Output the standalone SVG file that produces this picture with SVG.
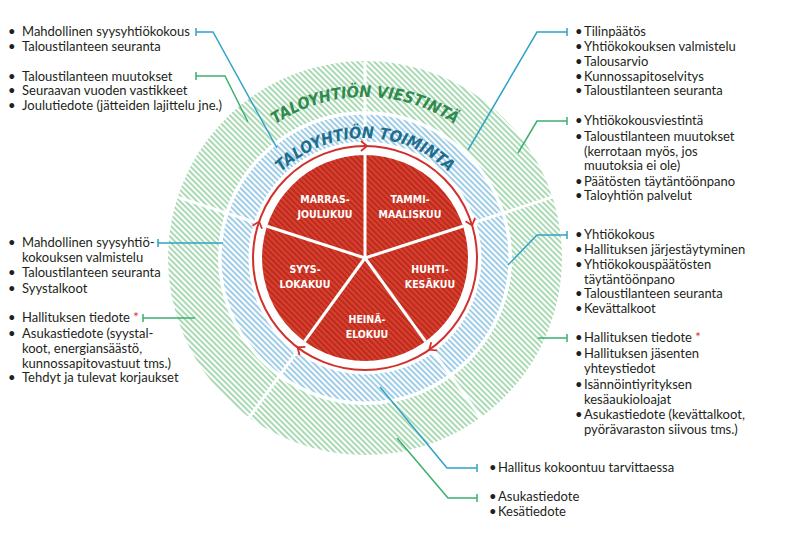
<svg xmlns="http://www.w3.org/2000/svg" width="794" height="533" viewBox="0 0 794 533">
<defs>
<pattern id="hg" width="4" height="4" patternUnits="userSpaceOnUse" patternTransform="rotate(-45)"><rect width="4" height="4" fill="#fff"/><rect width="2" height="4" fill="#a9dab4"/></pattern>
<pattern id="hb" width="4" height="4" patternUnits="userSpaceOnUse" patternTransform="rotate(-45)"><rect width="4" height="4" fill="#fff"/><rect width="2" height="4" fill="#9fcde8"/></pattern>
<pattern id="hr" width="4" height="4" patternUnits="userSpaceOnUse" patternTransform="rotate(-45)"><rect width="4" height="4" fill="#d8402e"/><rect width="1.6" height="4" fill="#b5261c"/></pattern>
<path id="arcG" d="M241.7,154.5 A161 161 0 0 1 488.3,154.5"/>
<path id="arcB" d="M273.1,180.9 A120 120 0 0 1 456.9,180.9"/>
</defs>
<style>
.t{font-family:Lato,"Open Sans","Noto Sans",sans-serif;font-size:13px;fill:#231f20}
.ast{fill:#d0312d}
.m{font-family:"DejaVu Sans Condensed","DejaVu Sans",sans-serif;font-weight:bold;font-size:10.5px;fill:#fff}
.ring{font-family:"DejaVu Sans Condensed","DejaVu Sans",sans-serif;font-weight:bold;font-style:italic;font-size:16px}
.cb{fill:none;stroke:#2ea3c6;stroke-width:1.5}
.cg{fill:none;stroke:#3bb06e;stroke-width:1.5}
.div{stroke:#fff;stroke-width:3}
.arr{fill:none;stroke:#d0312d;stroke-width:1.8}
</style>
<rect width="794" height="533" fill="#fff"/>
<g id="wheel">
<circle cx="365" cy="258" r="172" fill="none" stroke="url(#hg)" stroke-width="50"/>
<circle cx="365" cy="258" r="130" fill="none" stroke="url(#hb)" stroke-width="27"/>
<circle cx="365" cy="258" r="112" fill="none" stroke="#d0312d" stroke-width="2"/>
<circle cx="365" cy="258" r="103" fill="url(#hr)"/>
<g class="div">
<line x1="365" y1="144" x2="365" y2="56"/>
<line x1="473.4" y1="222.8" x2="557" y2="195.6"/>
<line x1="432" y1="350.2" x2="484" y2="421.8"/>
<line x1="298" y1="350.2" x2="246" y2="421.8"/>
<line x1="256.6" y1="222.8" x2="173" y2="195.6"/>
<line x1="365" y1="258" x2="365" y2="155"/>
<line x1="365" y1="258" x2="463" y2="226.2"/>
<line x1="365" y1="258" x2="425.5" y2="341.3"/>
<line x1="365" y1="258" x2="304.5" y2="341.3"/>
<line x1="365" y1="258" x2="267" y2="226.2"/>
</g>
<g class="arr">
<path d="M-4,-5 L2,0 L-4,5" transform="translate(365,146)"/>
<path d="M-4,-5 L2,0 L-4,5" transform="translate(471.5,223.4) rotate(72)"/>
<path d="M-4,-5 L2,0 L-4,5" transform="translate(430.9,348.6) rotate(144)"/>
<path d="M-4,-5 L2,0 L-4,5" transform="translate(299.2,348.6) rotate(216)"/>
<path d="M-4,-5 L2,0 L-4,5" transform="translate(258.5,223.4) rotate(288)"/>
</g>
<text class="ring" fill="#2f8a4e"><textPath href="#arcG" startOffset="50%" text-anchor="middle">TALOYHTIÖN VIESTINTÄ</textPath></text>
<text class="ring" fill="#1f6d8c" font-size="14.5"><textPath href="#arcB" startOffset="50%" text-anchor="middle">TALOYHTIÖN TOIMINTA</textPath></text>
<g text-anchor="middle" class="m">
<text class="m" x="325" y="203">MARRAS-</text><text class="m" x="325" y="218">JOULUKUU</text>
<text class="m" x="410" y="203">TAMMI-</text><text class="m" x="410" y="218">MAALISKUU</text>
<text class="m" x="305" y="273">SYYS-</text><text class="m" x="305" y="288">LOKAKUU</text>
<text class="m" x="430" y="273">HUHTI-</text><text class="m" x="430" y="288">KESÄKUU</text>
<text class="m" x="367" y="323">HEINÄ-</text><text class="m" x="367" y="338">ELOKUU</text>
</g>
</g>
<g id="connectors">
<path class="cb" d="M196,32 H213 L277,148 M196,28 V36"/>
<path class="cg" d="M196,76 H225 L248,122 M196,72 V80"/>
<path class="cb" d="M567,32 H537 L468,150 M567,28 V36"/>
<path class="cg" d="M567,121 H537 L518,153 M567,117 V125"/>
<path class="cb" d="M567,235 H537 L508,265 M567,231 V239"/>
<path class="cg" d="M567,338 H538 M567,334 V342"/>
<path class="cb" d="M158,243 H223 M158,239 V247"/>
<path class="cg" d="M143,318 H195 M143,314 V322"/>
<path class="cb" d="M380,387 L447,468 H477 M477,464 V472"/>
<path class="cg" d="M397,438 L448,498 H477 M477,494 V502"/>
</g>
<g id="left-top" class="t">
<text x="8" y="36">•</text><text x="22" y="36">Mahdollinen syysyhtiökokous</text>
<text x="8" y="51">•</text><text x="22" y="51">Taloustilanteen seuranta</text>
</g>
<g id="left-top2" class="t">
<text x="8" y="81">•</text><text x="22" y="81">Taloustilanteen muutokset</text>
<text x="8" y="95">•</text><text x="22" y="95">Seuraavan vuoden vastikkeet</text>
<text x="8" y="110">•</text><text x="22" y="110">Joulutiedote (jätteiden lajittelu jne.)</text>
</g>
<g id="left-mid" class="t">
<text x="8" y="247">•</text><text x="22" y="247">Mahdollinen syysyhtiö-</text>
<text x="22" y="262">kokouksen valmistelu</text>
<text x="8" y="277">•</text><text x="22" y="277">Taloustilanteen seuranta</text>
<text x="8" y="293">•</text><text x="22" y="293">Syystalkoot</text>
</g>
<g id="left-mid2" class="t">
<text x="8" y="322">•</text><text x="22" y="322">Hallituksen tiedote <tspan class="ast">*</tspan></text>
<text x="8" y="338">•</text><text x="22" y="338">Asukastiedote (syystal-</text>
<text x="22" y="353">koot, energiansäästö,</text>
<text x="22" y="368">kunnossapitovastuut tms.)</text>
<text x="8" y="382">•</text><text x="22" y="382">Tehdyt ja tulevat korjaukset</text>
</g>
<g id="right-top" class="t">
<text x="575" y="36">•</text><text x="584" y="36">Tilinpäätös</text>
<text x="575" y="51">•</text><text x="584" y="51">Yhtiökokouksen valmistelu</text>
<text x="575" y="66">•</text><text x="584" y="66">Talousarvio</text>
<text x="575" y="81">•</text><text x="584" y="81">Kunnossapitoselvitys</text>
<text x="575" y="95">•</text><text x="584" y="95">Taloustilanteen seuranta</text>
</g>
<g id="right-top2" class="t">
<text x="575" y="125">•</text><text x="584" y="125">Yhtiökokousviestintä</text>
<text x="575" y="141">•</text><text x="584" y="141">Taloustilanteen muutokset</text>
<text x="584" y="156">(kerrotaan myös, jos</text>
<text x="584" y="170">muutoksia ei ole)</text>
<text x="575" y="186">•</text><text x="584" y="186">Päätösten täytäntöönpano</text>
<text x="575" y="200">•</text><text x="584" y="200">Taloyhtiön palvelut</text>
</g>
<g id="right-mid" class="t">
<text x="575" y="239">•</text><text x="584" y="239">Yhtiökokous</text>
<text x="575" y="254">•</text><text x="584" y="254">Hallituksen järjestäytyminen</text>
<text x="575" y="269">•</text><text x="584" y="269">Yhtiökokouspäätösten</text>
<text x="584" y="284">täytäntöönpano</text>
<text x="575" y="298">•</text><text x="584" y="298">Taloustilanteen seuranta</text>
<text x="575" y="313">•</text><text x="584" y="313">Kevättalkoot</text>
</g>
<g id="right-mid2" class="t">
<text x="575" y="342">•</text><text x="584" y="342">Hallituksen tiedote <tspan class="ast">*</tspan></text>
<text x="575" y="358">•</text><text x="584" y="358">Hallituksen jäsenten</text>
<text x="584" y="373">yhteystiedot</text>
<text x="575" y="389">•</text><text x="584" y="389">Isännöintiyrityksen</text>
<text x="584" y="404">kesäaukioloajat</text>
<text x="575" y="419">•</text><text x="584" y="419">Asukastiedote (kevättalkoot,</text>
<text x="584" y="434">pyörävaraston siivous tms.)</text>
</g>
<g id="bottom1" class="t">
<text x="489" y="472">•</text><text x="498" y="472">Hallitus kokoontuu tarvittaessa</text>
</g>
<g id="bottom2" class="t">
<text x="489" y="501">•</text><text x="498" y="501">Asukastiedote</text>
<text x="489" y="516">•</text><text x="498" y="516">Kesätiedote</text>
</g>
</svg>
